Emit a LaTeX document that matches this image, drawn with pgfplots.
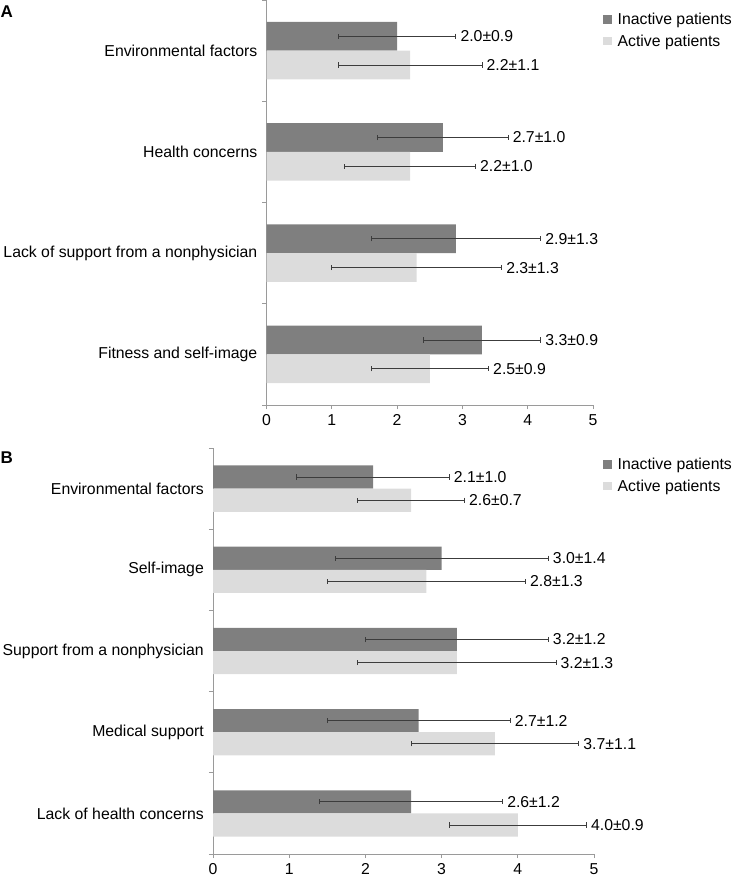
\documentclass[border=0pt]{standalone}
\usepackage{fontspec}
\setmainfont{Liberation Sans}
\usepackage{pgfplots}
\usepackage{pgfplotstable}
\pgfplotsset{compat=1.18}
\definecolor{inact}{HTML}{7F7F7F}
\definecolor{act}{HTML}{DCDCDC}
\definecolor{axcol}{HTML}{9A9A9A}
\definecolor{errcol}{HTML}{3C3C3C}
\newcommand\fs{\fontsize{15.8bp}{19bp}\selectfont}

\pgfplotstableread{
cat im is am as ilab alab
0 2.0 0.9 2.2 1.1 2.0±0.9 2.2±1.1
1 2.7 1.0 2.2 1.0 2.7±1.0 2.2±1.0
2 2.9 1.3 2.3 1.3 2.9±1.3 2.3±1.3
3 3.3 0.9 2.5 0.9 3.3±0.9 2.5±0.9
}\dataA

\pgfplotstableread{
cat im is am as ilab alab
0 2.1 1.0 2.6 0.7 2.1±1.0 2.6±0.7
1 3.0 1.4 2.8 1.3 3.0±1.4 2.8±1.3
2 3.2 1.2 3.2 1.3 3.2±1.2 3.2±1.3
3 2.7 1.2 3.7 1.1 2.7±1.2 3.7±1.1
4 2.6 1.2 4.0 0.9 2.6±1.2 4.0±0.9
}\dataB

\pgfplotsset{
  mystyle/.style={
    scale only axis, clip=false,
    xmin=0, xmax=5, xtick={0,1,2,3,4,5},
    y dir=reverse,
    axis x line*=bottom, axis y line*=left,
    axis line style={draw=axcol, line width=0.8bp},
    tick align=outside, major tick length=4bp, minor tick length=4bp,
    every tick/.style={draw=axcol, line width=0.8bp},
    every major y tick/.append style={draw=none},
    tick label style={font=\fs},
    /pgf/number format/assume math mode=true,
    yticklabel style={inner sep=0pt, xshift=-5bp},
    xticklabel style={inner sep=0pt, yshift=-5bp},
    legend cell align=left,
    legend style={draw=none, fill=none, font=\fs, anchor=north west,
      inner sep=0pt, row sep=8.5bp, nodes={inner sep=0pt},
      /tikz/every odd column/.style={column sep=6bp}},
  },
  inbar/.style={xbar, bar width=0.285, bar shift=-0.1425, fill=inact, draw=none,
    legend image code/.code={\fill[inact] (0bp,-4bp) rectangle (8.5bp,4.5bp);}},
  acbar/.style={xbar, bar width=0.285, bar shift=0.1425, fill=act, draw=none,
    legend image code/.code={\fill[act] (0bp,-4bp) rectangle (8.5bp,4.5bp);}},
  err/.style={draw=none, mark=none, forget plot,
    error bars/.cd, x dir=both, x explicit,
    error bar style={draw=errcol, line width=0.8bp},
    error mark options={draw=errcol, line width=0.8bp, mark size=2.6bp, rotate=90}},
  lab/.style={draw=none, mark=none, forget plot, nodes near coords,
    point meta=explicit symbolic,
    nodes near coords style={anchor=west, inner sep=0pt, xshift=4.5bp, font=\fs, text=black}},
}

\begin{document}
\begin{tikzpicture}
\useasboundingbox (0bp,0bp) rectangle (734bp,-876bp);
\node[anchor=north west, inner sep=0pt, font=\fontsize{17bp}{20bp}\selectfont\bfseries] at (0.5bp,-6bp) {A};
\node[anchor=north west, inner sep=0pt, font=\fontsize{17bp}{20bp}\selectfont\bfseries] at (0.5bp,-452bp) {B};

\begin{axis}[mystyle,
  at={(266.5bp,-405bp)}, anchor=south west,
  width=326.5bp, height=405bp,
  ymin=-0.5, ymax=3.5,
  ytick={0,1,2,3},
  yticklabels={Environmental factors, Health concerns, Lack of support from a nonphysician, Fitness and self-image},
  minor ytick={-0.5,0.5,1.5,2.5,3.5},
  legend style={at={(1.0305,0.968)}},
]
\addplot[inbar] table[x=im, y=cat] {\dataA};
\addlegendentry{Inactive patients}
\addplot[acbar] table[x=am, y=cat] {\dataA};
\addlegendentry{Active patients}
\addplot[err] table[x=im, y expr=\thisrow{cat}-0.1425, x error=is] {\dataA};
\addplot[err] table[x=am, y expr=\thisrow{cat}+0.1425, x error=as] {\dataA};
\addplot[lab] table[x expr=\thisrow{im}+\thisrow{is}, y expr=\thisrow{cat}-0.1425, meta=ilab] {\dataA};
\addplot[lab] table[x expr=\thisrow{am}+\thisrow{as}, y expr=\thisrow{cat}+0.1425, meta=alab] {\dataA};
\end{axis}

\begin{axis}[mystyle,
  at={(213bp,-854bp)}, anchor=south west,
  width=381bp, height=406bp,
  ymin=-0.5, ymax=4.5,
  ytick={0,1,2,3,4},
  yticklabels={Environmental factors, Self-image, Support from a nonphysician, Medical support, Lack of health concerns},
  minor ytick={-0.5,0.5,1.5,2.5,3.5,4.5},
  legend style={at={(1.0236,0.975)}},
]
\addplot[inbar] table[x=im, y=cat] {\dataB};
\addlegendentry{Inactive patients}
\addplot[acbar] table[x=am, y=cat] {\dataB};
\addlegendentry{Active patients}
\addplot[err] table[x=im, y expr=\thisrow{cat}-0.1425, x error=is] {\dataB};
\addplot[err] table[x=am, y expr=\thisrow{cat}+0.1425, x error=as] {\dataB};
\addplot[lab] table[x expr=\thisrow{im}+\thisrow{is}, y expr=\thisrow{cat}-0.1425, meta=ilab] {\dataB};
\addplot[lab] table[x expr=\thisrow{am}+\thisrow{as}, y expr=\thisrow{cat}+0.1425, meta=alab] {\dataB};
\end{axis}
\end{tikzpicture}
\end{document}
